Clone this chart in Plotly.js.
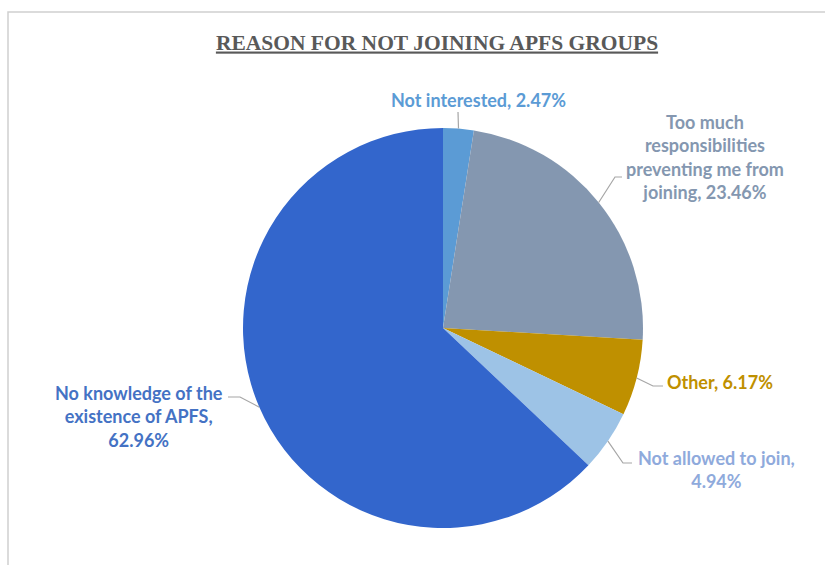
<!DOCTYPE html>
<html><head><meta charset="utf-8">
<script src="https://cdn.plot.ly/plotly-3.0.1.min.js"></script>
<style>html,body{margin:0;padding:0;background:#fff}#chart{width:825px;height:565px}</style>
</head><body><div id="chart"></div>
<script>
const categories = ["Not interested", "Too much responsibilities preventing me from joining", "Other", "Not allowed to join", "No knowledge of the existence of APFS"];
const values = [2.47, 23.46, 6.17, 4.94, 62.96];
const labelTexts = ["Not interested, 2.47%", "Too much<br>responsibilities<br>preventing me from<br>joining, 23.46%", "Other, 6.17%", "Not allowed to join,<br>4.94%", "No knowledge of the<br>existence of APFS,<br>62.96%"];
const colors = ["#5B9BD5", "#8497B0", "#BF9000", "#9DC3E6", "#3366CC"];
const textColors = ["#5B9BD5", "#8497B0", "#BF9000", "#8FAADC", "#4472C4"];

const W = 825, H = 565;
const cx = 443, cy = 328, R = 200;
// label layout (pixel positions of label centres, and leader elbows)
const labelPos = [[479, 100], [705, 157], [720, 382], [716, 469], [139, 416]];
const elbows = [[[458, 112]], [[615, 177], [622, 177]], [[653, 386], [663, 386]], [[623, 463], [632, 463]], [[240, 397], [228, 397]]];

const px = x => x / W, py = y => 1 - y / H;

const total = values.reduce((a, b) => a + b, 0);
let cum = 0;
const shapes = [];
const annotations = [];
values.forEach((v, i) => {
  const mid = (cum + v / 2) / total * 2 * Math.PI;
  cum += v;
  const ex = cx + R * Math.sin(mid), ey = cy - R * Math.cos(mid);
  let path = `M${px(ex)},${py(ey)}`;
  elbows[i].forEach(p => { path += ` L${px(p[0])},${py(p[1])}`; });
  shapes.push({type: 'path', xref: 'paper', yref: 'paper', path: path, line: {color: '#A6A6A6', width: 1.2}});
  annotations.push({xref: 'paper', yref: 'paper', x: px(labelPos[i][0]), y: py(labelPos[i][1]), xanchor: 'center', yanchor: 'middle',
    text: labelTexts[i], showarrow: false, align: 'center',
    font: {family: 'Lato, "Open Sans", sans-serif', size: 18, color: textColors[i], weight: 700}});
});
// frame
shapes.push({type: 'path', xref: 'paper', yref: 'paper', path: `M${px(8)},0 L${px(8)},${py(12)} L1,${py(12)}`, line: {color: '#D0D0D0', width: 1.5}});

const data = [{
  type: 'pie', labels: categories, values: values, sort: false, direction: 'clockwise', rotation: 0,
  marker: {colors: colors, line: {width: 0}}, textinfo: 'none', hoverinfo: 'label+percent', showlegend: false,
  domain: {x: [px(cx - R), px(cx + R)], y: [py(cy + R), py(cy - R)]}
}];
const layout = {
  width: W, height: H, margin: {l: 0, r: 0, t: 0, b: 0}, paper_bgcolor: '#fff', showlegend: false,
  title: {text: '<b><u>REASON FOR NOT JOINING APFS GROUPS</u></b>', x: px(437), xanchor: 'center', y: py(42), yanchor: 'middle',
    font: {family: '"Liberation Serif", "Times New Roman", serif', size: 21.5, color: '#595959'}},
  shapes: shapes, annotations: annotations
};
Plotly.newPlot('chart', data, layout, {displayModeBar: false});
</script></body></html>
